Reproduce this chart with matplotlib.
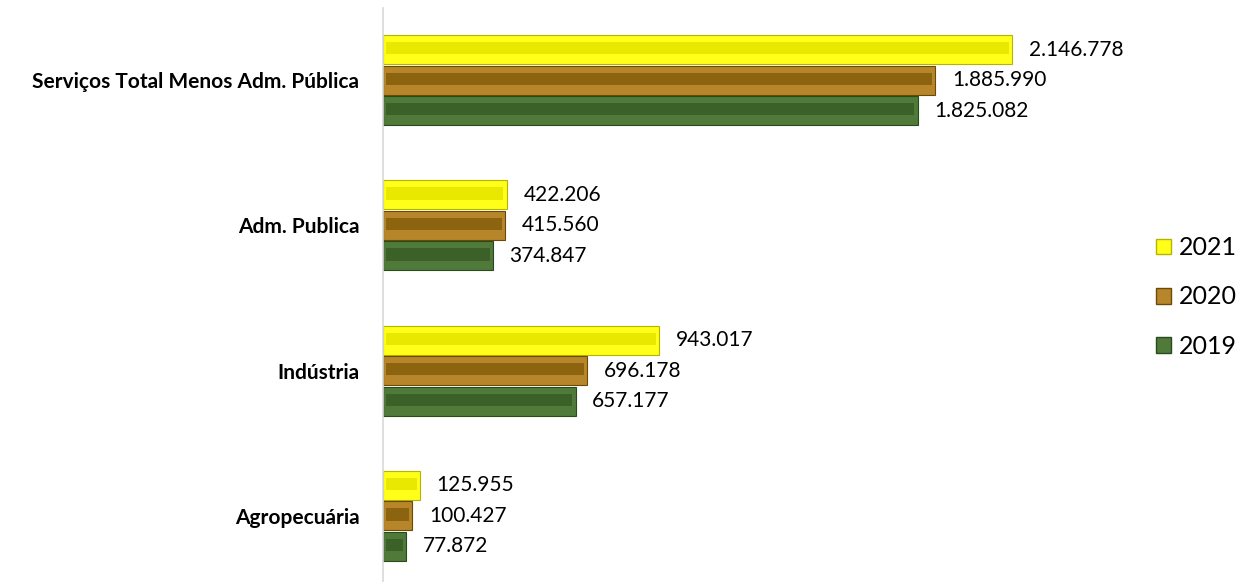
import numpy as np
import matplotlib.pyplot as plt
from matplotlib.patches import Patch

plt.rcParams['font.family'] = ['Lato', 'DejaVu Sans']

categorias = ["Agropecuária", "Indústria", "Adm. Publica", "Serviços Total Menos Adm. Pública"]
anos = ["2021", "2020", "2019"]
v2021 = [125955, 943017, 422206, 2146778]
v2020 = [100427, 696178, 415560, 1885990]
v2019 = [77872, 657177, 374847, 1825082]

valores = [v2021, v2020, v2019]
# outer / inner / edge colours per year
cores = [("#FFFF1A", "#E8E800", "#B5B500"),
         ("#B8862A", "#8C6410", "#6B4A05"),
         ("#4F7A3A", "#3B6129", "#2A4A1C")]
offsets = [0.21, 0.0, -0.21]
h = 0.2
bevel = 11000

fig = plt.figure(figsize=(12.47, 5.82), dpi=100)
ax = fig.add_axes([383 / 1247, -0.0112, 747 / 1247, 0.9983])

y = np.arange(len(categorias))
for vals, (c_out, c_in, c_edge), off in zip(valores, cores, offsets):
    vals = np.array(vals)
    ax.barh(y + off, vals, height=h, color=c_out, edgecolor=c_edge, linewidth=0.8, zorder=2)
    ax.barh(y + off + 0.01, vals - 2 * bevel, left=bevel, height=h * 0.42,
            color=c_in, linewidth=0, zorder=3)
    for yi, v in zip(y + off, vals):
        s = f"{v:,}".replace(",", ".")
        ax.annotate(s, (v, yi), xytext=(12, 0), textcoords="offset points",
                    va="center", ha="left", fontsize=15, color="black")

ax.set_xlim(0, 2550000)
ax.set_ylim(-0.5, 3.5)
ax.set_yticks(y)
ax.set_yticklabels(categorias, fontsize=15, fontweight="bold")
ax.tick_params(axis="y", length=0, pad=17)
ax.set_xticks([])
for s in ["top", "right", "bottom"]:
    ax.spines[s].set_visible(False)
ax.spines["left"].set_color("#D9D9D9")
ax.spines["left"].set_linewidth(1.2)

handles = [Patch(facecolor=c[0], edgecolor=c[2], label=a) for a, c in zip(anos, cores)]
fig.legend(handles=handles, loc="center left", bbox_to_anchor=(1146 / 1247, 1 - 297 / 582),
           frameon=False, fontsize=18, handlelength=0.6, handleheight=0.6,
           handletextpad=0.3, labelspacing=1.05, borderaxespad=0)

fig.savefig("out.png", dpi=100)
